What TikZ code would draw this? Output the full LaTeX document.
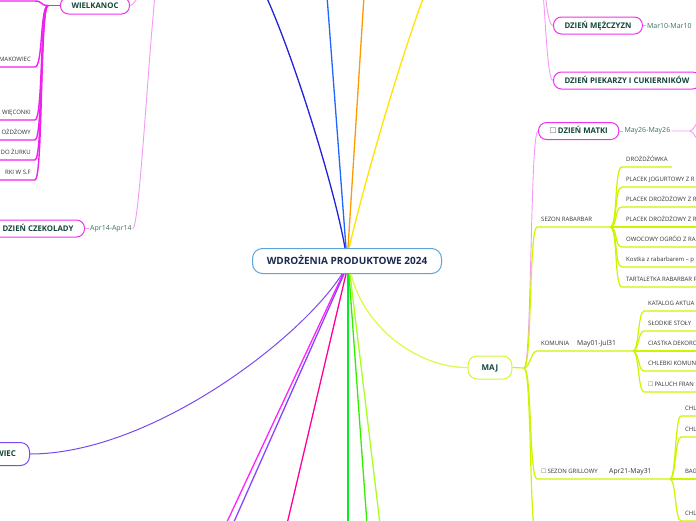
\documentclass[tikz,border=0pt]{standalone}
\usepackage{fontspec}
\setmainfont{Open Sans}
\newfontfamily\symfont{DejaVu Sans}
\usetikzlibrary{positioning}

\definecolor{rootblue}{HTML}{5AA5DC}
\definecolor{rootnavy}{HTML}{1B2A4E}
\definecolor{nodegreen}{HTML}{14463A}
\definecolor{dategreen}{HTML}{3A6E5E}
\definecolor{leafgray}{HTML}{333333}
\definecolor{boxgray}{HTML}{666666}
\definecolor{pinkA}{HTML}{EE22EE}
\definecolor{pinkB}{HTML}{EE33EE}
\definecolor{pinkL}{HTML}{F49AF4}
\definecolor{ygreen}{HTML}{CCF500}
\definecolor{majborder}{HTML}{D4F53C}
\definecolor{majline}{HTML}{E2F850}
\definecolor{czpurple}{HTML}{7A4AF0}
\definecolor{darkblue}{HTML}{2222DD}
\definecolor{midblue}{HTML}{2266FF}
\definecolor{orange1}{HTML}{FF9900}
\definecolor{yellow1}{HTML}{FFE400}
\definecolor{magenta1}{HTML}{FF22FF}
\definecolor{purple1}{HTML}{8844FF}
\definecolor{hotpink}{HTML}{FF0099}
\definecolor{green1}{HTML}{00EE22}
\definecolor{green2}{HTML}{33EE00}
\definecolor{lime1}{HTML}{AAFF22}

\newcommand{\chkbox}{{\symfont\textcolor{boxgray}{☐}}}

\begin{document}
\begin{tikzpicture}[x=1pt,y=-1pt,
	root/.style={draw=rootblue,line width=1pt,rounded corners=10pt,fill=white,minimum width=189pt,minimum height=25pt,text height=7pt,text depth=0pt,font=\bfseries\fontsize{10}{11}\selectfont,text=rootnavy},
	month/.style={line width=1pt,rounded corners=9pt,fill=white,inner xsep=13.5pt,inner ysep=0pt,minimum height=23pt,text height=5.8pt,text depth=0pt,font=\bfseries\fontsize{8}{9}\selectfont,text=nodegreen},
	topic/.style={draw=pinkB,line width=1pt,rounded corners=8pt,fill=white,inner xsep=11pt,inner ysep=0pt,minimum height=17pt,text height=5.6pt,text depth=0pt,font=\bfseries\fontsize{7.8}{8}\selectfont,text=nodegreen},
	datelbl/.style={inner sep=1pt,font=\fontsize{7}{8}\selectfont,text=dategreen},
	leaf/.style={anchor=south west,inner xsep=4pt,inner ysep=5.5pt,text height=4.3pt,text depth=0pt,font=\fontsize{6}{7}\selectfont,text=leafgray},
	leafdate/.style={leaf,font=\fontsize{6.8}{8}\selectfont},
	pinkthick/.style={draw=pinkA,line width=1.4pt},
	pinkthin/.style={draw=pinkL,line width=0.9pt},
	ygline/.style={draw=ygreen,line width=1.2pt},
	]
	\useasboundingbox (0,0) rectangle (696,520);
	\clip (0,0) rectangle (696,520);

	% centre and months
	\node[root] (root) at (347,261) {WDROŻENIA PRODUKTOWE 2024};
	\node[month,draw=majborder] (maj) at (490,367.5) {MAJ};
	\node[month,draw=czpurple,anchor=east] (czerwiec) at (30,454) {CZERWIEC};

	\coordinate (upA) at (266,-4);
	\coordinate (upB) at (327,-4);
	\coordinate (upC) at (364,-4);
	\coordinate (upD) at (424,-4);
	\coordinate (dnA) at (226,524);
	\coordinate (dnB) at (233,524);
	\coordinate (dnC) at (287,524);
	\coordinate (dnD) at (348,524);
	\coordinate (dnE) at (367,524);
	\coordinate (dnF) at (380,524);

	\draw[line width=1.3pt,darkblue] ([xshift=-2pt]root.north) .. controls (335,190) and (295,60) .. (upA);
	\draw[line width=1.3pt,midblue] ([xshift=-1pt]root.north) -- (upB);
	\draw[line width=1.3pt,orange1] ([xshift=1pt]root.north) -- (upC);
	\draw[line width=1.3pt,yellow1] ([xshift=2pt]root.north) .. controls (365,180) and (400,60) .. (upD);

	\draw[line width=1.3pt,magenta1] ([xshift=-4pt]root.south) -- (dnA);
	\draw[line width=1.3pt,purple1] ([xshift=-3pt]root.south) -- (dnB);
	\draw[line width=1.3pt,hotpink] ([xshift=-1pt]root.south) -- (dnC);
	\draw[line width=1.3pt,green1] ([xshift=1pt]root.south) -- (dnD);
	\draw[line width=1.3pt,green2] ([xshift=2pt]root.south) -- (dnE);
	\draw[line width=1.3pt,lime1] ([xshift=3pt]root.south) -- (dnF);
	\draw[line width=1pt,czpurple] ([xshift=-5pt]root.south) .. controls (300,340) and (150,454) .. (czerwiec.east);
	\draw[line width=1.3pt,majline] ([xshift=4pt]root.south) .. controls (365,330) and (420,368) .. (maj.west);

	% MAJ
	\coordinate (majJ) at (524,368);
	\coordinate (majDown) at (537,540);
	\draw[ygline] (maj.east) -- (majJ);
	\draw[ygline] (majJ) .. controls +(8,0) and +(-8,0) .. (majDown);

	\node[topic,anchor=west] (matka) at (538,131) {\chkbox\,DZIEŃ MATKI};
	\node[datelbl,right=4pt of matka] (matkaD) {May26-May26};
	\coordinate (matkaJ) at (690,131);
	\coordinate (matkaA) at (700,121);
	\coordinate (matkaB) at (700,141);
	\draw[pinkthin] (majJ) .. controls +(8,0) and +(-8,0) .. (matka.west);
	\draw[pinkthin] (matka) -- (matkaD);
	\draw[pinkthin] (matkaD) -- (matkaJ) .. controls +(4,0) and +(-4,0) .. (matkaA);
	\draw[pinkthin] (matkaJ) .. controls +(4,0) and +(-4,0) .. (matkaB);

	\node[leaf] (rabarbar) at (537,227) {SEZON RABARBAR};
	\coordinate (rabJ) at (610,227);
	\draw[ygline] (majJ) .. controls +(8,0) and +(-8,0) .. (rabarbar.south west) -- (rabJ);
	\node[leaf] (rab1) at (622,167) {DROŻDŻÓWKA};
	\node[leaf] (rab2) at (622,187) {PLACEK JOGURTOWY Z R};
	\node[leaf] (rab3) at (622,207) {PLACEK DROŻDŻOWY Z R};
	\node[leaf] (rab4) at (622,227) {PLACEK DROŻDŻOWY Z R};
	\node[leaf] (rab5) at (622,247) {OWOCOWY OGRÓD Z RA};
	\node[leaf] (rab6) at (622,267) {Kostka z rabarbarem – p};
	\node[leaf] (rab7) at (622,287) {TARTALETKA RABARBAR P};
	\draw[ygline] (rabJ) .. controls +(8,0) and +(-8,0) .. (rab1.south west) -- (rab1.south east);
	\draw[ygline] (rabJ) .. controls +(8,0) and +(-8,0) .. (rab2.south west) -- ++(90,0);
	\draw[ygline] (rabJ) .. controls +(8,0) and +(-8,0) .. (rab3.south west) -- ++(90,0);
	\draw[ygline] (rabJ) -- (rab4.south west) -- ++(90,0);
	\draw[ygline] (rabJ) .. controls +(8,0) and +(-8,0) .. (rab5.south west) -- ++(90,0);
	\draw[ygline] (rabJ) .. controls +(8,0) and +(-8,0) .. (rab6.south west) -- ++(90,0);
	\draw[ygline] (rabJ) .. controls +(8,0) and +(-8,0) .. (rab7.south west) -- ++(90,0);

	\node[leaf] (komunia) at (537,351) {KOMUNIA};
	\node[leafdate] (komuniaD) at (573,351) {May01-Jul31};
	\coordinate (komJ) at (633,351);
	\draw[ygline] (majJ) .. controls +(6,0) and +(-6,0) .. (komunia.south west) -- (komJ);
	\node[leaf] (kom1) at (644,311) {KATALOG AKTUA};
	\node[leaf] (kom2) at (644,331) {SŁODKIE STOŁY};
	\node[leaf] (kom3) at (644,351) {CIASTKA DEKORO};
	\node[leaf] (kom4) at (644,371) {CHLEBKI KOMUN};
	\node[leaf] (kom5) at (644,392) {\chkbox\,PALUCH FRAN};
	\draw[ygline] (komJ) .. controls +(6,0) and +(-6,0) .. (kom1.south west) -- ++(80,0);
	\draw[ygline] (komJ) .. controls +(6,0) and +(-6,0) .. (kom2.south west) -- ++(80,0);
	\draw[ygline] (komJ) -- (kom3.south west) -- ++(80,0);
	\draw[ygline] (komJ) .. controls +(6,0) and +(-6,0) .. (kom4.south west) -- ++(80,0);
	\draw[ygline] (komJ) .. controls +(6,0) and +(-6,0) .. (kom5.south west) -- ++(80,0);

	\node[leaf] (grill) at (537,479) {\chkbox\,SEZON GRILLOWY};
	\node[leafdate] (grillD) at (605,479) {Apr21-May31};
	\coordinate (grillJ) at (670,479);
	\draw[ygline] (majJ) .. controls +(8,0) and +(-8,0) .. (grill.south west) -- (grillJ);
	\node[leaf] (gr1) at (681,416) {CHL};
	\node[leaf] (gr2) at (681,437) {CHL};
	\node[leaf] (gr3) at (681,479) {BAG};
	\node[leaf] (gr4) at (681,521) {CHL};
	\draw[ygline] (grillJ) .. controls +(6,0) and +(-6,0) .. (gr1.south west) -- ++(40,0);
	\draw[ygline] (grillJ) .. controls +(6,0) and +(-6,0) .. (gr2.south west) -- ++(40,0);
	\draw[ygline] (grillJ) -- (gr3.south west) -- ++(40,0);
	\draw[ygline] (grillJ) .. controls +(6,0) and +(-6,0) .. (gr4.south west) -- ++(40,0);

	% top right
	\coordinate (marJ) at (537,-40);
	\node[topic,anchor=west] (mezczyzn) at (553,25.5) {DZIEŃ MĘŻCZYZN};
	\node[datelbl,right=3pt of mezczyzn] (mezczyznD) {Mar10-Mar10};
	\node[topic,anchor=west] (piekarze) at (553,80.5) {DZIEŃ PIEKARZY I CUKIERNIKÓW};
	\draw[pinkthin] (marJ) .. controls +(8,0) and +(-8,0) .. (mezczyzn.west);
	\draw[pinkthin] (marJ) .. controls +(8,0) and +(-8,0) .. (piekarze.west);
	\draw[pinkthin] (mezczyzn) -- (mezczyznD);

	% top left
	\coordinate (kwJ) at (161,-40);
	\node[topic,anchor=west] (wielkanoc) at (60,5.5) {WIELKANOC};
	\node[topic,anchor=east] (czekolada) at (85,228.5) {DZIEŃ CZEKOLADY};
	\node[datelbl,right=4pt of czekolada] (czekoladaD) {Apr14-Apr14};
	\draw[pinkthin] (kwJ) .. controls +(-8,0) and +(8,0) .. (wielkanoc.east);
	\draw[pinkthin] (kwJ) .. controls +(-8,0) and +(8,0) .. (czekoladaD.east);
	\draw[pinkthin] (czekolada) -- (czekoladaD);

	\coordinate (wielJ) at (48,5.5);
	\coordinate (wiel0) at (35,1);
	\node[leaf,anchor=south east] (wiel1) at (35,67) {MAKOWIEC};
	\node[leaf,anchor=south east] (wiel2) at (35,120) {WIĘCONKI};
	\node[leaf,anchor=south east] (wiel3) at (35,140) {OŻDŻOWY};
	\node[leaf,anchor=south east] (wiel4) at (35,160) {DO ŻURKU};
	\node[leaf,anchor=south east] (wiel5) at (35,180) {RKI W S.F};
	\draw[pinkthick] (wielkanoc.west) -- (wielJ);
	\draw[pinkthick] (wielJ) .. controls +(-8,0) and +(8,0) .. (wiel0) -- ++(-40,0);
	\draw[pinkthick] (wielJ) .. controls +(-8,0) and +(8,0) .. (wiel1.south east) -- ++(-40,0);
	\draw[pinkthick] (wielJ) .. controls +(-8,0) and +(8,0) .. (wiel2.south east) -- ++(-40,0);
	\draw[pinkthick] (wielJ) .. controls +(-8,0) and +(8,0) .. (wiel3.south east) -- ++(-40,0);
	\draw[pinkthick] (wielJ) .. controls +(-8,0) and +(8,0) .. (wiel4.south east) -- ++(-40,0);
	\draw[pinkthick] (wielJ) .. controls +(-8,0) and +(8,0) .. (wiel5.south east) -- ++(-40,0);
\end{tikzpicture}
\end{document}
